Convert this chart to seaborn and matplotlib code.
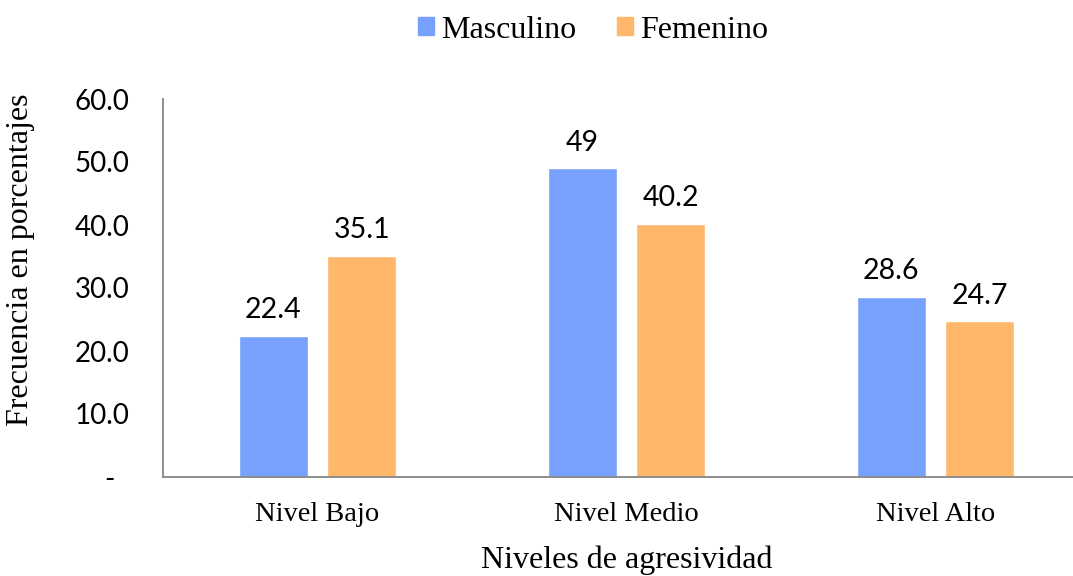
import pandas as pd
import matplotlib
matplotlib.use("Agg")
import matplotlib.pyplot as plt
import matplotlib.patches as mpatches
import seaborn as sns

# data
niveles = ["Nivel Bajo", "Nivel Medio", "Nivel Alto"]
masculino = [22.4, 49.0, 28.6]
femenino = [35.1, 40.2, 24.7]
lab_masc = ["22.4", "49", "28.6"]
lab_fem = ["35.1", "40.2", "24.7"]
yticks = [0, 10, 20, 30, 40, 50, 60]
ytick_labels = ["-  ", "10.0", "20.0", "30.0", "40.0", "50.0", "60.0"]

BLUE = "#77A1FD"
ORANGE = "#FFB76C"
GRAY = "#868686"
SERIF = ["Liberation Serif", "DejaVu Serif"]
SANS = ["Lato", "DejaVu Sans"]

df = pd.DataFrame({
    "Nivel": niveles * 2,
    "Sexo": ["Masculino"] * 3 + ["Femenino"] * 3,
    "Valor": masculino + femenino,
})

sns.set_theme(style="white")
plt.rcParams.update({"text.color": "black", "axes.labelcolor": "black",
                     "xtick.color": "black", "ytick.color": "black"})

fig = plt.figure(figsize=(10.73, 5.76), dpi=100)
ax = fig.add_axes([163 / 1073, 1 - 477 / 576, 927 / 1073, 378 / 576])

sns.barplot(data=df, x="Nivel", y="Valor", hue="Sexo", order=niveles,
            hue_order=["Masculino", "Femenino"],
            palette={"Masculino": BLUE, "Femenino": ORANGE},
            width=0.573, gap=0.22, ax=ax, legend=False, saturation=1)

ax.set_ylim(0, 60)
ax.set_xlim(-0.5, 2.5)
ax.set_yticks(yticks)
ax.set_yticklabels(ytick_labels, family=SANS, fontsize=20)
ax.set_xticks(range(len(niveles)))
ax.set_xticklabels(niveles, family=SERIF, fontsize=20.5)
ax.tick_params(axis="y", length=0, pad=24)
ax.tick_params(axis="x", length=0, pad=18)

for side in ["top", "right"]:
    ax.spines[side].set_visible(False)
for side in ["left", "bottom"]:
    ax.spines[side].set_color(GRAY)
    ax.spines[side].set_linewidth(1.3)

ax.set_xlabel("Niveles de agresividad", family=SERIF, fontsize=23, labelpad=13)
ax.set_ylabel("Frecuencia en porcentajes", family=SERIF, fontsize=23)
ax.yaxis.set_label_coords(-0.138, 0.574)

# data labels
for cont, labs in zip(ax.containers, [lab_masc, lab_fem]):
    ax.bar_label(cont, labels=labs, padding=9, family=SANS, fontsize=20.5)

handles = [mpatches.Patch(color=BLUE, label="Masculino"),
           mpatches.Patch(color=ORANGE, label="Femenino")]
fig.legend(handles=handles, loc="center", bbox_to_anchor=(593 / 1073, 1 - 30 / 576),
           ncol=2, frameon=False, prop={"family": SERIF, "size": 23},
           handlelength=0.5, handleheight=0.5, handletextpad=0.2, columnspacing=1.3)

fig.savefig("out.png", dpi=100)
